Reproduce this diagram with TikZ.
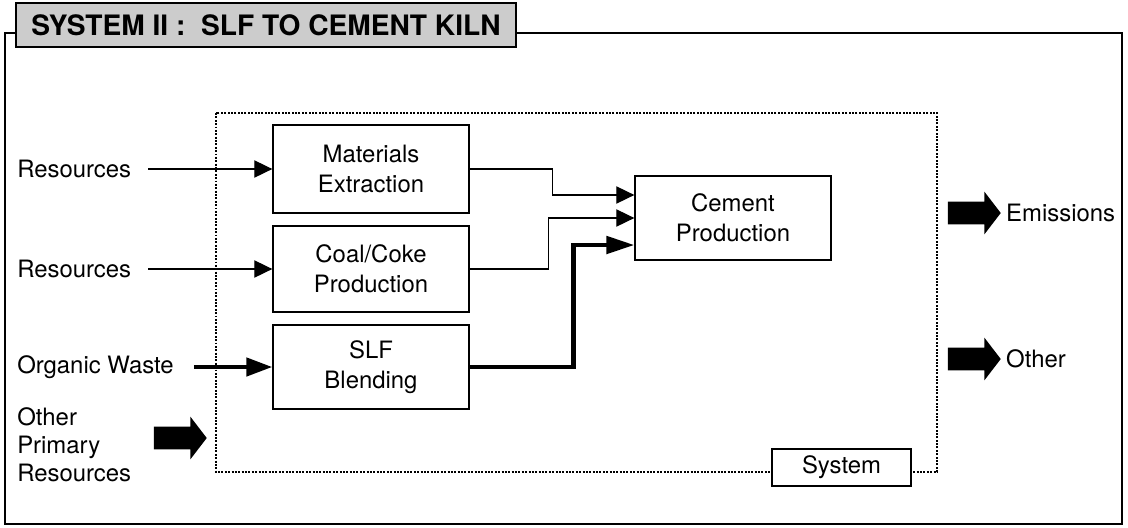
\documentclass[tikz,border=0pt]{standalone}
\usepackage{fontspec}
\setmainfont{TeX Gyre Heros}
\usetikzlibrary{arrows.meta,positioning,shapes.arrows}
\definecolor{scangray}{rgb}{0.80,0.80,0.80}
\tikzset{
  titulo/.style={
    draw=black,
    line width=1.1pt,
    fill=scangray,
    minimum width=12.5cm,
    minimum height=1.1cm,
    inner sep=0pt,
    font=\fontsize{20}{24}\selectfont\bfseries
  },
  caja/.style={
    draw=black,
    line width=.9pt,
    fill=white,
    align=center,
    minimum width=4.9cm,
    inner sep=2pt,
    font=\fontsize{17}{21}\selectfont
  },
  rotulo/.style={
    anchor=west,
    inner sep=0pt,
    align=left,
    font=\fontsize{17}{20}\selectfont
  },
  flecha/.style={
    -{Triangle[length=4.5mm,width=4.3mm]},
    line width=.9pt
  },
  gruesa/.style={
    -{Triangle[length=6.5mm,width=4.5mm]},
    line width=3.2pt
  },
  bloqueflecha/.style={
    single arrow,
    fill=black,
    inner xsep=0pt,
    inner ysep=.275cm,
    minimum height=1.32cm,
    single arrow head extend=.25cm,
    single arrow tip angle=105
  }
}

\begin{document}
\begin{tikzpicture}[x=.025cm,y=-.025cm]
\useasboundingbox (0,0) rectangle (1128,527);
% marcos
\draw[line width=.8pt] (5,33) rectangle (1122,524);
\draw[densely dotted,line width=1.4pt] (216,113) rectangle (937,472);
\node[titulo] (tit) at (266,25) {SYSTEM II :\ \ SLF TO CEMENT KILN};
% procesos
\node[caja,minimum height=2.2cm] (mat) at (371,169) {Materials\\Extraction};
\node[caja,minimum height=2.15cm] (coal) at (371,269) {Coal/Coke\\Production};
\node[caja,minimum height=2.1cm] (slf) at (371,367) {SLF\\Blending};
\node[caja,minimum height=2.1cm] (cem) at (733,218) {Cement\\Production};
\node[caja,minimum width=3.475cm,minimum height=.925cm] (sys) at (841.5,467.5) {System};
% entradas
\node[rotulo] (res1) at (17,169) {Resources};
\node[rotulo] (res2) at (17,269) {Resources};
\node[rotulo] (org) at (17,367) {Organic Waste};
\node[rotulo] (opr) at (17,445) {Other\\Primary\\Resources};
\node[bloqueflecha] (oprin) at (176,438) {};
% salidas
\node[bloqueflecha] (emi) at (970,213) {};
\node[rotulo,right=.12cm of emi] (emitxt) {Emissions};
\node[bloqueflecha] (oth) at (970,359) {};
\node[rotulo,right=.12cm of oth] (othtxt) {Other};
% flujos
\draw[flecha,shorten <=.42cm] (res1.east) -- (mat.west);
\draw[flecha,shorten <=.42cm] (res2.east) -- (coal.west);
\draw[gruesa,shorten <=.5cm] (org.east) -- (slf.west);
\draw[flecha] (mat.east) -- ++(83,0) |- ([yshift=.575cm]cem.west);
\draw[flecha] (coal.east) -- ++(79,0) |- (cem.west);
\draw[gruesa,-{Triangle[length=7mm,width=4.3mm]}] (slf.east) -- ++(104,0) |- ([yshift=-.675cm]cem.west);
\end{tikzpicture}
\end{document}
